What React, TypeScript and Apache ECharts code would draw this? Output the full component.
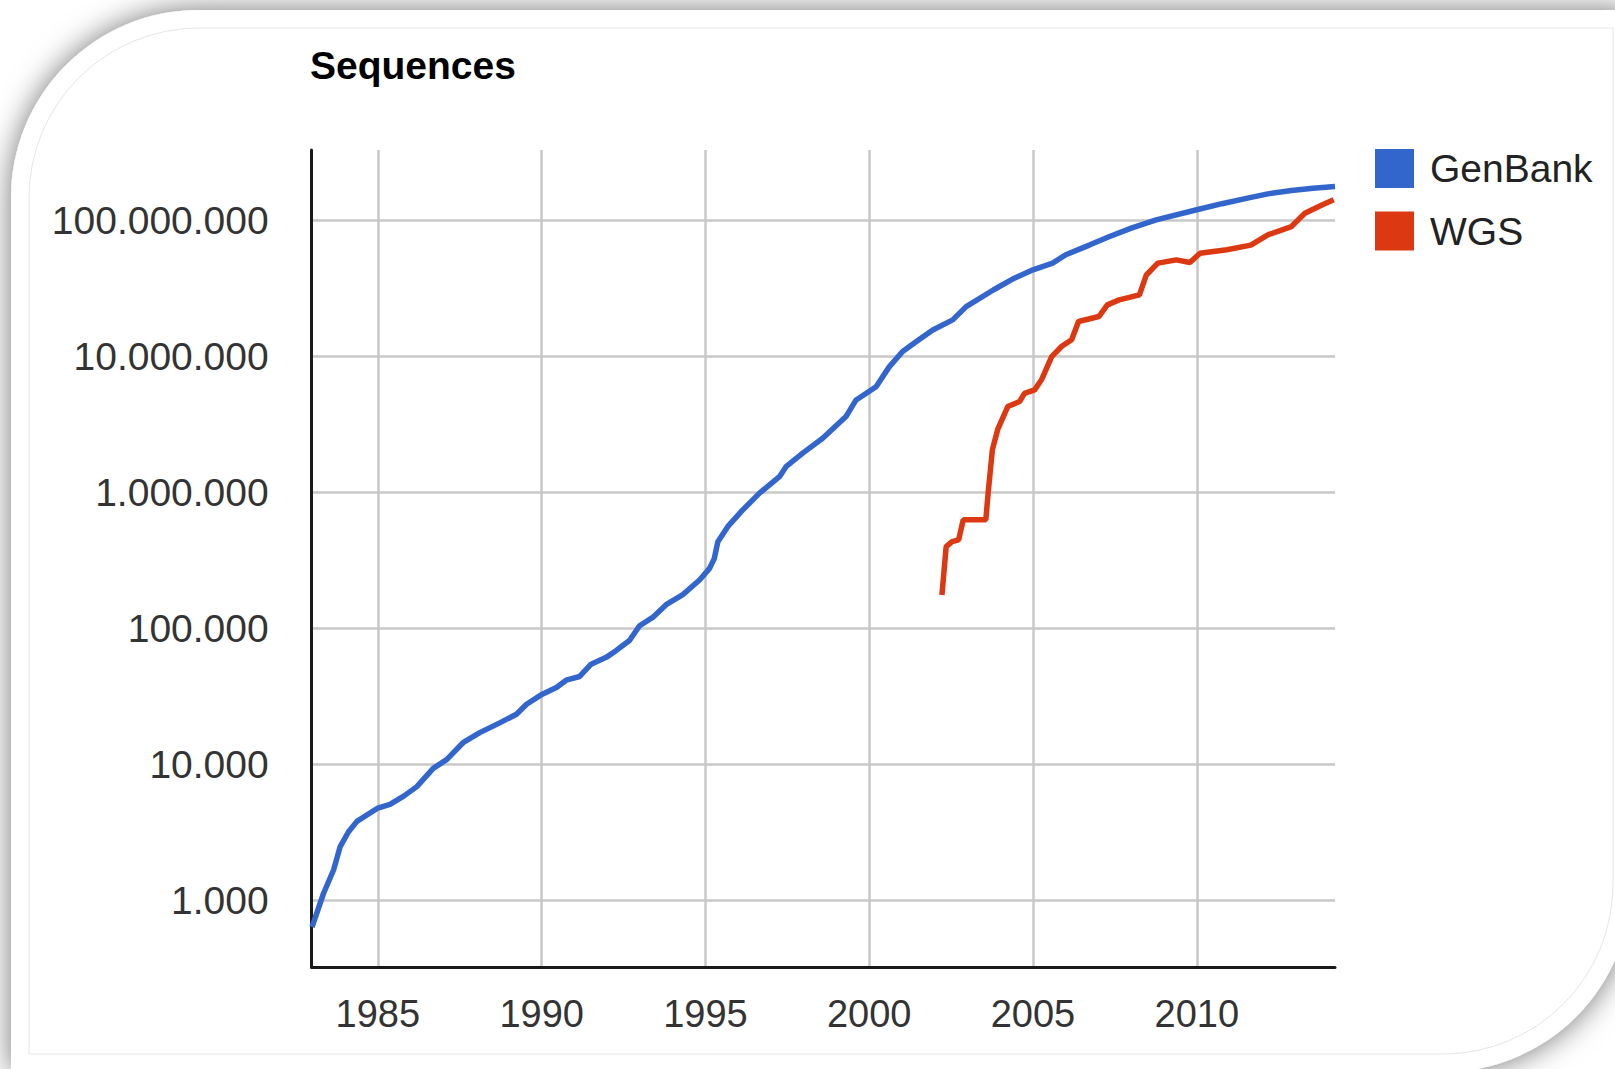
import React, { useEffect, useRef } from "react";
import * as echarts from "echarts";

const titleText = "Sequences";
const seriesNames = ["GenBank", "WGS"];
const seriesColors = ["#3366CC", "#DC3912"];

const genbankYears = [
  1982.99, 1983.34, 1983.65, 1983.85, 1984.1, 1984.36, 1985.0, 1985.37, 1985.8, 1986.19,
  1986.69, 1987.1, 1987.6, 1988.11, 1988.72, 1989.23, 1989.54, 1990.02, 1990.45, 1990.75,
  1991.16, 1991.51, 1991.97, 1992.27, 1992.68, 1992.99, 1993.39, 1993.8, 1994.31, 1994.82,
  1995.12, 1995.27, 1995.38, 1995.68, 1996.14, 1996.65, 1997.26, 1997.46, 1997.97, 1998.58,
  1999.29, 1999.6, 2000.21, 2000.61, 2001.02, 2001.44, 2001.94, 2002.55, 2002.96, 2003.8,
  2004.43, 2005.0, 2005.6, 2006.0, 2006.72, 2007.32, 2008.0, 2008.76, 2010.0, 2010.77,
  2011.55, 2012.17, 2012.89, 2013.55, 2014.22,
];
const genbankValues = [
  640, 1130, 1690, 2500, 3200, 3830, 4800, 5100, 5900, 6900,
  9400, 10900, 14500, 17200, 20300, 23500, 27800, 33000, 36900, 41800,
  44500, 54800, 61500, 68900, 81800, 105000, 121000, 150000, 178000, 228000,
  276000, 327000, 436000, 562000, 746000, 991000, 1310000, 1550000, 1950000, 2510000,
  3620000, 4800000, 6000000, 8400000, 10900000, 12900000, 15700000, 18600000, 23300000, 31000000,
  37700000, 43400000, 48600000, 56000000, 66000000, 76000000, 88000000, 101000000, 120000000, 133000000,
  146000000, 157000000, 166000000, 173000000, 178000000,
];

const wgsYears = [
  2002.22, 2002.35, 2002.53, 2002.73, 2002.87, 2003.56, 2003.63, 2003.76, 2003.92, 2004.23,
  2004.59, 2004.74, 2005.05, 2005.26, 2005.57, 2005.88, 2006.18, 2006.39, 2007.01, 2007.27,
  2007.63, 2008.25, 2008.46, 2008.81, 2009.38, 2009.79, 2010.1, 2010.92, 2011.65, 2012.17,
  2012.89, 2013.3, 2013.82, 2014.18,
];
const wgsValues = [
  177000, 401000, 436000, 449000, 631000, 631000, 990000, 2060000, 2900000, 4290000,
  4670000, 5370000, 5690000, 6750000, 10000000, 11900000, 13300000, 18100000, 19700000, 24000000,
  26100000, 28400000, 39800000, 48600000, 51400000, 49100000, 57500000, 61000000, 66000000, 78500000,
  90300000, 113000000, 130000000, 142000000,
];

const xMin = 1982.98;
const xMax = 2014.22;
const yMin = 324;
const yMax = 3.3e8;

const FONT = "'Liberation Sans', Arial, sans-serif";

function fmtThousands(v: number): string {
  return Math.round(v)
    .toString()
    .replace(/\B(?=(\d{3})+(?!\d))/g, ".");
}

export default function App() {
  const ref = useRef<HTMLDivElement>(null);

  useEffect(() => {
    if (!ref.current) return;
    const chart = echarts.init(ref.current, undefined, { renderer: "svg" });

    const genbankData = genbankYears.map((y, i) => [y, genbankValues[i]]);
    const wgsData = wgsYears.map((y, i) => [y, wgsValues[i]]);

    chart.setOption({
      animation: false,
      backgroundColor: "#ffffff",
      graphic: {
        elements: [
          {
            type: "rect",
            z: -10,
            silent: true,
            shape: { x: 11, y: 10, width: 1620, height: 1062, r: [188, 0, 188, 0] },
            style: {
              fill: "#ffffff",
              shadowBlur: 30,
              shadowColor: "rgba(0,0,0,0.55)",
              shadowOffsetX: 0,
              shadowOffsetY: 0,
            },
          },
          {
            type: "rect",
            z: -9,
            silent: true,
            shape: { x: 29, y: 28, width: 1584, height: 1026, r: [170, 0, 170, 0] },
            style: { fill: "#ffffff", stroke: "#e6e6e6", lineWidth: 1 },
          },
        ],
      },
      title: {
        text: titleText,
        left: 310,
        top: 46,
        padding: 0,
        textStyle: { fontFamily: FONT, fontSize: 39, fontWeight: "bold", color: "#000" },
      },
      legend: {
        orient: "vertical",
        left: 1375,
        top: 149,
        padding: 0,
        itemWidth: 39,
        itemHeight: 39,
        itemGap: 23.5,
        icon: "rect",
        data: seriesNames,
        textStyle: { fontFamily: FONT, fontSize: 39, color: "#222", padding: [0, 0, 0, 11] },
      },
      grid: { left: 311.7, right: 280, top: 150, bottom: 101.7, containLabel: false },
      xAxis: {
        type: "value",
        min: xMin,
        max: xMax,
        minInterval: 5,
        maxInterval: 5,
        axisLine: { show: true, onZero: false, lineStyle: { color: "#1a1a1a", width: 3 } },
        axisTick: { show: false },
        splitLine: {
          show: true,
          showMinLine: false,
          showMaxLine: false,
          lineStyle: { color: "#c8c8c8", width: 2.5 },
        },
        axisLabel: {
          fontFamily: FONT,
          fontSize: 38,
          color: "#333",
          margin: 28,
          showMinLabel: false,
          showMaxLabel: false,
          formatter: (v: number) => (Math.abs(v - Math.round(v)) < 1e-6 && Math.round(v) % 5 === 0 ? String(Math.round(v)) : ""),
        },
      },
      yAxis: {
        type: "log",
        logBase: 10,
        min: yMin,
        max: yMax,
        axisLine: { show: true, lineStyle: { color: "#1a1a1a", width: 3 } },
        axisTick: { show: false },
        splitLine: {
          show: true,
          showMinLine: false,
          showMaxLine: false,
          lineStyle: { color: "#c8c8c8", width: 2.5 },
        },
        axisLabel: {
          fontFamily: FONT,
          fontSize: 39,
          color: "#333",
          margin: 43,
          showMinLabel: false,
          showMaxLabel: false,
          formatter: (v: number) => {
            const l = Math.log10(v);
            return Math.abs(l - Math.round(l)) < 1e-6 ? fmtThousands(v) : "";
          },
        },
      },
      series: [
        {
          name: seriesNames[0],
          type: "line",
          data: genbankData,
          showSymbol: false,
          symbol: "none",
          color: seriesColors[0],
          lineStyle: { color: seriesColors[0], width: 5.5 },
          itemStyle: { color: seriesColors[0] },
          z: 3,
        },
        {
          name: seriesNames[1],
          type: "line",
          data: wgsData,
          showSymbol: false,
          symbol: "none",
          color: seriesColors[1],
          lineStyle: { color: seriesColors[1], width: 5.5 },
          itemStyle: { color: seriesColors[1] },
          z: 4,
        },
      ],
    });

    return () => chart.dispose();
  }, []);

  return (
    <div
      ref={ref}
      style={{ position: "absolute", left: 0, top: 0, width: 1615, height: 1069, overflow: "hidden" }}
    />
  );
}
